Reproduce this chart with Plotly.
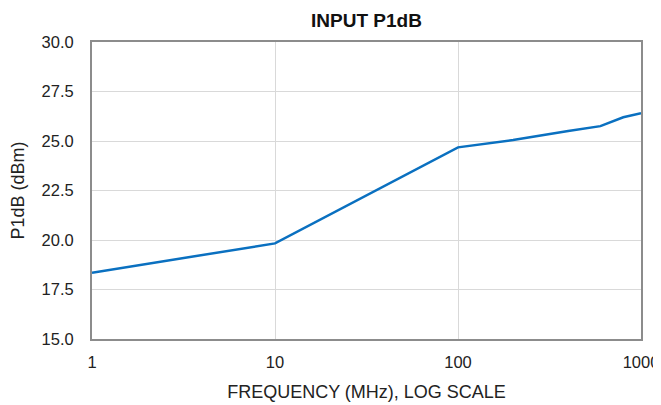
import plotly.graph_objects as go

freq_mhz = [1, 10, 100, 200, 400, 600, 800, 1000]
p1db_dbm = [18.35, 19.83, 24.68, 25.05, 25.5, 25.75, 26.2, 26.4]

x_ticks = [1, 10, 100, 1000]
y_ticks = [15.0, 17.5, 20.0, 22.5, 25.0, 27.5, 30.0]

fig = go.Figure()
fig.add_trace(
    go.Scatter(
        x=freq_mhz,
        y=p1db_dbm,
        mode="lines",
        line={"color": "#0a70c0", "width": 2.5},
        showlegend=False,
    )
)

axis_common = dict(
    showline=True,
    linecolor="#8c8c8c",
    linewidth=2,
    mirror=True,
    gridcolor="#d9d9d9",
    gridwidth=1,
    ticks="",
    zeroline=False,
    automargin=False,
    tickfont={"size": 16.5, "color": "#222"},
)

# page body adds an 8px offset, so the figure is sized to fit the window
fig.update_layout(
    width=653,
    height=397,
    template="plotly_white",
    paper_bgcolor="white",
    plot_bgcolor="white",
    font={"family": "Liberation Sans, Arial, sans-serif", "color": "#222"},
    margin={"l": 84, "r": 20, "t": 34, "b": 66},
    title={
        "text": "<b>INPUT P1dB</b>",
        "xref": "paper",
        "x": 0.5,
        "xanchor": "center",
        "y": 0.968,
        "yanchor": "middle",
        "font": {"size": 19, "color": "#111"},
    },
)
fig.update_xaxes(
    type="log",
    range=[0, 3],
    tickvals=x_ticks,
    ticktext=[str(v) for v in x_ticks],
    ticklabelstandoff=7,
    title={"text": "FREQUENCY (MHz), LOG SCALE", "font": {"size": 18}, "standoff": 16},
    **axis_common,
)
fig.update_yaxes(
    range=[15, 30],
    tickvals=y_ticks,
    ticktext=[f"{v:.1f}" for v in y_ticks],
    ticklabelstandoff=13,
    title={"text": "P1dB (dBm)", "font": {"size": 18}, "standoff": 14},
    **axis_common,
)

fig.write_html("out.html")
